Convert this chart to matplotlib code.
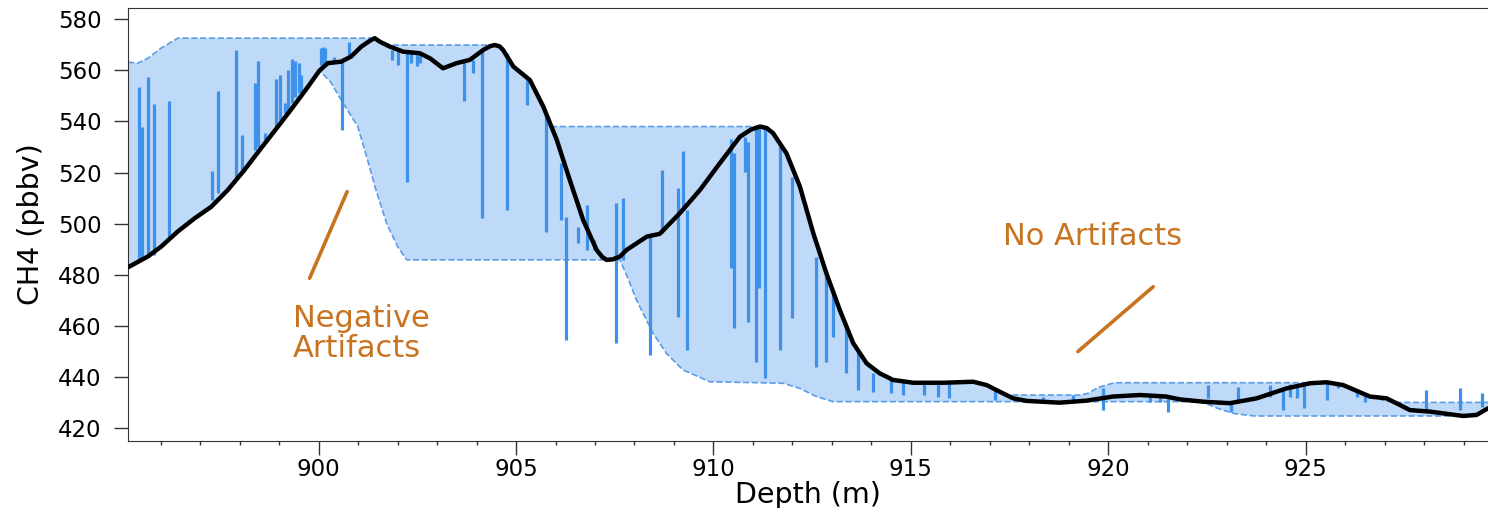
from matplotlib import pyplot as plt
from matplotlib.ticker import MultipleLocator

# smoothed CH4 profile (black line)
depth = [895.17, 895.67, 896.01, 896.43, 896.86, 897.28, 897.70, 898.12,
         898.54, 898.97, 899.39, 899.73, 900.02, 900.23, 900.57, 900.82,
         901.08, 901.30, 901.42, 901.55, 901.80, 902.14, 902.56, 902.82,
         903.15, 903.49, 903.83, 904.17, 904.35, 904.46, 904.58, 904.67,
         904.93, 905.35, 905.69, 906.03, 906.36, 906.70, 907.04, 907.18,
         907.29, 907.45, 907.63, 907.80, 908.31, 908.64, 909.15, 909.66,
         910.16, 910.67, 910.95, 911.18, 911.35, 911.51, 911.85, 912.19,
         912.53, 912.86, 913.20, 913.54, 913.88, 914.21, 914.55, 915.06,
         915.82, 916.58, 916.92, 917.25, 917.59, 917.93, 918.77, 919.45,
         920.12, 920.80, 921.47, 921.81, 922.40, 923.08, 923.76, 924.52,
         925.11, 925.53, 925.95, 926.63, 927.05, 927.30, 927.64, 928.15,
         928.99, 929.33, 929.62]
ch4 = [482.9, 487.1, 491.0, 496.9, 502.1, 506.6, 513.2, 521.0,
       529.5, 538.0, 546.5, 553.6, 559.9, 562.8, 563.4, 565.4,
       569.3, 571.6, 572.6, 571.2, 569.3, 567.3, 566.7, 564.7,
       560.8, 562.8, 564.1, 568.0, 569.5, 569.9, 569.4, 568.0,
       561.5, 556.2, 545.8, 532.8, 517.1, 501.4, 489.7, 487.0,
       485.8, 486.0, 487.1, 489.7, 494.9, 496.0, 504.1, 513.2,
       523.6, 534.0, 536.8, 538.0, 537.4, 535.4, 527.5, 514.5,
       496.2, 480.6, 466.2, 453.2, 445.3, 441.4, 438.8, 437.7,
       437.7, 438.1, 436.8, 434.2, 431.6, 430.6, 429.9, 430.7,
       432.3, 432.9, 432.3, 431.2, 430.3, 429.7, 431.6, 435.5,
       437.5, 437.9, 436.8, 432.3, 431.6, 429.7, 427.0, 426.4,
       424.7, 425.1, 427.7]

# envelope (shaded band, dashed edges)
upper_depth = [895.17, 895.42, 895.67, 896.01, 896.43, 901.42, 901.55, 901.80,
               904.46, 904.67, 904.93, 905.35, 905.69, 905.90, 911.18, 911.51,
               911.85, 912.19, 912.53, 912.86, 913.20, 913.54, 913.88, 914.21,
               914.55, 915.06, 915.82, 916.58, 916.92, 917.25, 917.45, 919.28,
               919.50, 919.75, 920.16, 925.47, 925.95, 926.63, 927.20, 929.62]
upper_ch4 = [563.2, 562.8, 564.7, 568.7, 572.6, 572.6, 571.2, 569.9,
             569.9, 568.0, 561.5, 556.2, 545.8, 538.0, 538.0, 535.4,
             527.5, 514.5, 496.2, 480.6, 466.2, 453.2, 445.3, 441.4,
             438.8, 437.7, 437.7, 438.1, 436.8, 434.2, 432.9, 432.9,
             433.6, 435.9, 437.7, 437.7, 436.8, 432.3, 430.0, 430.0]
lower_depth = [895.17, 895.67, 896.01, 896.43, 896.86, 897.28, 897.70, 898.12,
               898.54, 898.97, 899.39, 899.73, 900.02, 900.30, 900.57, 900.99,
               901.20, 901.45, 901.72, 902.00, 902.23, 907.63, 907.85, 908.05,
               908.47, 908.81, 909.23, 909.91, 911.77, 912.19, 912.61, 913.03,
               922.37, 922.80, 923.20, 923.70, 928.98, 929.33, 929.62]
lower_ch4 = [482.9, 487.1, 491.0, 496.9, 502.1, 506.6, 513.2, 521.0,
             529.5, 538.0, 546.5, 553.6, 559.9, 555.5, 548.4, 538.0,
             527.0, 513.2, 500.1, 491.0, 485.8, 485.8, 478.0, 470.1,
             457.1, 449.2, 442.7, 438.1, 437.5, 435.5, 432.3, 430.3,
             430.3, 427.5, 425.6, 424.7, 424.7, 425.1, 427.7]

# raw-data spikes: depth, bottom, top
spike_depth = [895.46, 895.52, 895.67, 895.83, 896.22, 897.29, 897.45, 897.91,
               898.05, 898.39, 898.46, 898.64, 898.92, 899.03, 899.14, 899.22,
               899.32, 899.41, 899.49, 899.54, 900.05, 900.11, 900.16, 900.40,
               900.59, 900.76, 901.85, 902.01, 902.24, 902.35, 902.48, 902.56,
               903.68, 903.90, 904.14, 904.78, 905.27, 905.75, 906.13, 906.26,
               906.57, 906.79, 906.97, 907.52, 907.70, 908.39, 908.69, 909.11,
               909.22, 909.33, 910.44, 910.52, 910.80, 910.88, 911.09, 911.16,
               911.30, 911.68, 912.00, 912.61, 912.85, 913.02, 913.37, 913.67,
               914.05, 914.51, 914.79, 915.33, 915.68, 915.97, 917.13, 918.35,
               919.11, 919.87, 921.05, 921.31, 921.52, 922.53, 923.12, 923.29,
               924.09, 924.43, 924.60, 924.77, 924.96, 925.53, 925.83, 926.29,
               926.50, 928.05, 928.91, 929.47]
spike_low = [485.8, 485.8, 487.1, 487.7, 494.9, 509.3, 511.9, 518.4,
             521.0, 528.8, 530.1, 532.8, 538.0, 540.6, 543.2, 544.5,
             547.1, 549.7, 551.0, 551.7, 562.1, 561.5, 563.4, 563.4,
             536.7, 566.0, 564.1, 562.1, 516.4, 562.8, 561.5, 562.8,
             547.8, 558.9, 502.1, 505.3, 546.5, 496.9, 501.4, 454.5,
             492.3, 489.7, 489.7, 453.2, 485.8, 448.6, 496.2, 463.6,
             505.3, 450.5, 482.5, 459.0, 520.3, 461.6, 446.0, 474.7,
             439.5, 450.5, 462.9, 444.0, 446.0, 455.7, 441.4, 434.9,
             434.2, 433.6, 432.9, 432.9, 432.3, 431.6, 431.0, 430.7,
             430.3, 427.0, 430.3, 430.3, 426.4, 431.6, 426.4, 429.7,
             432.3, 427.0, 432.3, 431.6, 427.7, 431.0, 435.5, 432.3,
             430.3, 426.4, 427.0, 428.3]
spike_high = [553.6, 538.0, 557.5, 546.8, 547.8, 520.6, 552.1, 568.0,
              534.7, 555.2, 563.7, 535.6, 556.5, 558.2, 547.4, 560.2,
              564.3, 563.7, 562.8, 558.2, 568.7, 569.3, 568.8, 565.4,
              563.4, 571.2, 568.0, 568.0, 566.7, 566.7, 566.7, 566.0,
              563.4, 564.1, 568.0, 566.7, 556.2, 543.2, 523.6, 502.7,
              498.8, 507.3, 493.6, 508.0, 509.9, 494.9, 521.0, 513.8,
              528.6, 505.3, 533.0, 527.5, 534.0, 532.1, 537.3, 537.3,
              537.3, 530.2, 518.4, 487.1, 481.9, 474.0, 459.7, 450.5,
              441.4, 438.8, 438.1, 437.5, 437.5, 437.5, 434.9, 432.3,
              432.9, 435.5, 432.3, 432.3, 431.6, 436.8, 429.7, 436.2,
              436.8, 435.5, 437.2, 436.2, 436.8, 437.5, 436.8, 434.2,
              433.6, 434.9, 435.5, 433.6]

# annotation text and pointer lines
neg_text = ['Negative', 'Artifacts']
neg_pos = [(899.35, 459.7), (899.35, 447.9)]
neg_line_x = [899.77, 900.72]
neg_line_y = [478.6, 512.5]
no_text = 'No Artifacts'
no_pos = (917.33, 491.6)
no_line_x = [919.23, 921.14]
no_line_y = [449.9, 475.3]

fill_col = '#bedaf8'
edge_col = '#5b9de6'
spike_col = '#3e91e8'
note_col = '#c8731f'

fig = plt.figure(figsize=(14.88, 5.08), dpi=100)
ax = fig.add_axes([128 / 1488, 1 - 441 / 508, 1360 / 1488, 433 / 508])

band_x = upper_depth + lower_depth[::-1]
band_y = upper_ch4 + lower_ch4[::-1]
ax.fill(band_x, band_y, color=fill_col, lw=0, zorder=1)
ax.plot(upper_depth, upper_ch4, '--', color=edge_col, lw=1.2, zorder=2)
ax.plot(lower_depth, lower_ch4, '--', color=edge_col, lw=1.2, zorder=2)
ax.vlines(spike_depth, spike_low, spike_high, color=spike_col, lw=2.3,
          zorder=3)
ax.plot(depth, ch4, color='black', lw=3.2, zorder=4,
        solid_capstyle='round', solid_joinstyle='round')

ax.plot(neg_line_x, neg_line_y, color=note_col, lw=2.6, zorder=5,
        solid_capstyle='round')
ax.plot(no_line_x, no_line_y, color=note_col, lw=2.6, zorder=5,
        solid_capstyle='round')
for t, (x, y) in zip(neg_text, neg_pos):
    ax.text(x, y, t, color=note_col, fontsize=22, va='baseline', ha='left')
ax.text(no_pos[0], no_pos[1], no_text, color=note_col, fontsize=22,
        va='baseline', ha='left')

ax.set_xlim(895.17, 929.62)
ax.set_ylim(414.9, 584.4)
ax.xaxis.set_major_locator(MultipleLocator(5))
ax.xaxis.set_minor_locator(MultipleLocator(1))
ax.yaxis.set_major_locator(MultipleLocator(20))
ax.tick_params(axis='both', which='major', length=10, width=1,
               labelsize=16.5, color='#333333')
ax.tick_params(axis='y', which='major', pad=9)
ax.tick_params(axis='x', which='major', pad=2)
ax.tick_params(axis='x', which='minor', length=3, width=1, color='#333333')
ax.tick_params(top=False, right=False)
for side in ['left', 'bottom', 'top']:
    ax.spines[side].set_color('#333333')
ax.spines['right'].set_visible(False)

ax.set_xlabel('Depth (m)', fontsize=20.5, labelpad=0)
ax.set_ylabel('CH4 (pbbv)', fontsize=20.5, labelpad=9)

plt.savefig('out.png', dpi=100)
